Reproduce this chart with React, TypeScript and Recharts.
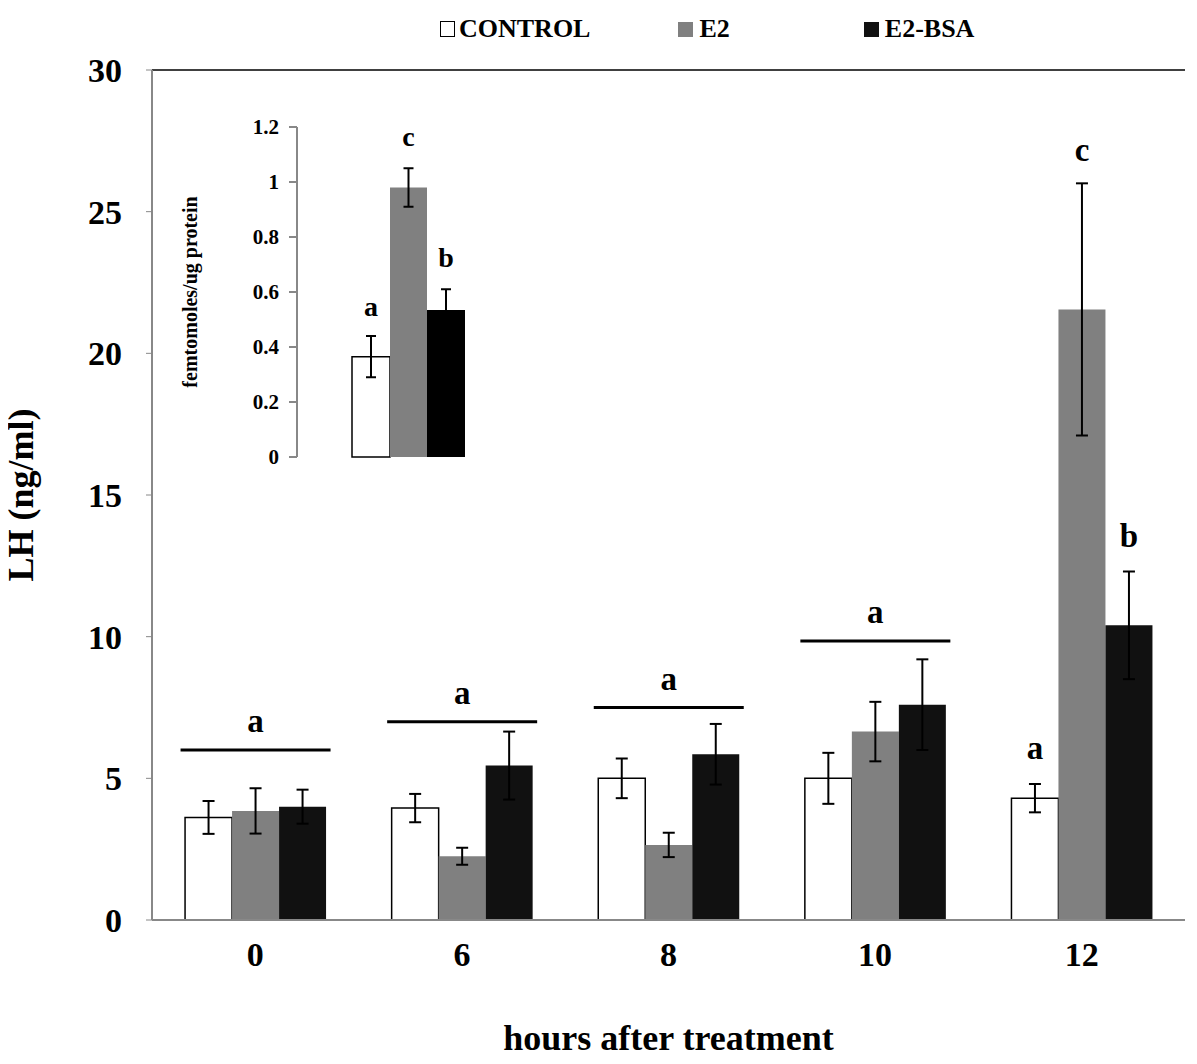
import { BarChart, Bar, XAxis, YAxis, ErrorBar, LabelList, ReferenceLine } from 'recharts'

const hours = ['0', '6', '8', '10', '12']
const control = [3.62, 3.95, 5.0, 5.0, 4.3]
const controlErr = [0.58, 0.5, 0.7, 0.9, 0.5]
const e2 = [3.85, 2.25, 2.65, 6.65, 21.55]
const e2Err = [0.8, 0.3, 0.43, 1.05, 4.45]
const e2bsa = [4.0, 5.45, 5.85, 7.6, 10.4]
const e2bsaErr = [0.6, 1.2, 1.07, 1.6, 1.9]
const controlLetters = ['', '', '', '', 'a']
const e2Letters = ['', '', '', '', 'c']
const e2bsaLetters = ['', '', '', '', 'b']
const sigLevel = [6.0, 7.0, 7.5, 9.85, 0]
const sigLetter = ['a', 'a', 'a', 'a', '']

const insetGroups = ['inset']
const insetControl = [0.365]
const insetControlErr = [0.075]
const insetE2 = [0.98]
const insetE2Err = [0.07]
const insetBsa = [0.535]
const insetBsaErr = [0.075]
const insetLetters = ['a', 'c', 'b']

const data = hours.map((h, i) => ({
  h,
  control: control[i], controlErr: controlErr[i],
  e2: e2[i], e2Err: e2Err[i],
  e2bsa: e2bsa[i], e2bsaErr: e2bsaErr[i],
}))
const insetData = insetGroups.map((g, i) => ({
  g, control: insetControl[i], controlErr: insetControlErr[i],
  e2: insetE2[i], e2Err: insetE2Err[i], bsa: insetBsa[i], bsaErr: insetBsaErr[i],
}))

const FONT = '"Liberation Serif", "Times New Roman", serif'

// letter above the top of an error bar
const letterContent = (vals: number[], errs: number[], letters: string[], size: number, gap: number) => (p: any) => {
  const { x, y, width, height, index } = p
  const t = letters[index]
  if (!t) return null
  const ppu = height / vals[index]
  const top = y + height - (vals[index] + errs[index]) * ppu
  return (
    <text x={x + width / 2} y={top - gap} textAnchor="middle" fontFamily={FONT} fontWeight="bold" fontSize={size} fill="#000">
      {t}
    </text>
  )
}

// significance line over a group, drawn from the middle bar
const sigContent = (p: any) => {
  const { x, y, width, height, index } = p
  const t = sigLetter[index]
  if (!t) return null
  const ppu = height / e2[index]
  const ly = y + height - sigLevel[index] * ppu
  const cx = x + width / 2
  return (
    <g>
      <line x1={cx - 75} x2={cx + 75} y1={ly} y2={ly} stroke="#000" strokeWidth={3} />
      <text x={cx} y={ly - 18} textAnchor="middle" fontFamily={FONT} fontWeight="bold" fontSize={33} fill="#000">{t}</text>
    </g>
  )
}

export default function App() {
  const tickStyle = { fontFamily: FONT, fontWeight: 'bold', fontSize: 34, fill: '#000' }
  return (
    <div style={{ position: 'relative', width: 1197, height: 1064, margin: -8, background: '#fff', fontFamily: FONT }}>
      <BarChart width={1197} height={1064} data={data} margin={{ top: 70, right: 12, left: 0, bottom: 0 }} barCategoryGap="16%" barGap={0}>
        <XAxis dataKey="h" height={144} tickLine={false} axisLine={{ stroke: '#888', strokeWidth: 2 }} tick={{ ...tickStyle, dy: 14 }}
          label={{ value: 'hours after treatment', position: 'insideBottom', offset: 14, style: { ...tickStyle, fontSize: 36 } }} />
        <YAxis width={152} domain={[0, 30]} ticks={[0, 5, 10, 15, 20, 25, 30]} axisLine={{ stroke: '#888', strokeWidth: 2 }}
          tickLine={{ stroke: '#888' }} tickSize={6} tick={{ ...tickStyle, dx: -22 }}
          label={{ value: 'LH (ng/ml)', angle: -90, position: 'insideLeft', offset: 20, style: { ...tickStyle, fontSize: 36, textAnchor: 'middle' } }} />
        <ReferenceLine y={30} stroke="#000" strokeWidth={1.5} />
        <Bar dataKey="control" fill="#fff" stroke="#000" strokeWidth={1.5} isAnimationActive={false}>
          <ErrorBar dataKey="controlErr" width={6} stroke="#000" strokeWidth={2} />
          <LabelList dataKey="control" content={letterContent(control, controlErr, controlLetters, 33, 25)} />
        </Bar>
        <Bar dataKey="e2" fill="#808080" isAnimationActive={false}>
          <ErrorBar dataKey="e2Err" width={6} stroke="#000" strokeWidth={2} />
          <LabelList dataKey="e2" content={letterContent(e2, e2Err, e2Letters, 33, 22)} />
          <LabelList dataKey="e2" content={sigContent} />
        </Bar>
        <Bar dataKey="e2bsa" fill="#111" isAnimationActive={false}>
          <ErrorBar dataKey="e2bsaErr" width={6} stroke="#000" strokeWidth={2} />
          <LabelList dataKey="e2bsa" content={letterContent(e2bsa, e2bsaErr, e2bsaLetters, 33, 25)} />
        </Bar>
      </BarChart>

      <div style={{ position: 'absolute', top: 14, left: 440, fontWeight: 'bold', fontSize: 26, display: 'flex', alignItems: 'center', whiteSpace: 'nowrap' }}>
        <span style={{ display: 'inline-block', width: 13, height: 14, border: '1.5px solid #000', marginRight: 4 }} />CONTROL
        <span style={{ display: 'inline-block', width: 15, height: 15, background: '#808080', marginLeft: 88, marginRight: 6 }} />E2
        <span style={{ display: 'inline-block', width: 15, height: 15, background: '#111', marginLeft: 134, marginRight: 6 }} />E2-BSA
      </div>

      <div style={{ position: 'absolute', left: 180, top: 100 }}>
        <BarChart width={290} height={370} data={insetData} margin={{ top: 27, right: 4, left: 0, bottom: 13 }} barCategoryGap={0} barGap={0}>
          <XAxis dataKey="g" hide padding={{ left: 54, right: 0 }} />
          <YAxis width={117} domain={[0, 1.2]} ticks={[0, 0.2, 0.4, 0.6, 0.8, 1, 1.2]} interval={0} axisLine={{ stroke: '#888', strokeWidth: 2 }}
            tickLine={{ stroke: '#888', strokeWidth: 2 }} tickSize={8}
            tick={{ fontFamily: FONT, fontWeight: 'bold', fontSize: 21, fill: '#000', dx: -8 }}
            label={{ value: 'femtomoles/ug protein', angle: -90, position: 'insideLeft', offset: 10, style: { fontFamily: FONT, fontWeight: 'bold', fontSize: 20, fill: '#000', textAnchor: 'middle' } }} />
          <Bar dataKey="control" fill="#fff" stroke="#000" strokeWidth={1.5} barSize={38} isAnimationActive={false}>
            <ErrorBar dataKey="controlErr" width={5} stroke="#000" strokeWidth={2} />
            <LabelList dataKey="control" content={letterContent(insetControl, insetControlErr, [insetLetters[0]], 28, 20)} />
          </Bar>
          <Bar dataKey="e2" fill="#808080" barSize={37} isAnimationActive={false}>
            <ErrorBar dataKey="e2Err" width={5} stroke="#000" strokeWidth={2} />
            <LabelList dataKey="e2" content={letterContent(insetE2, insetE2Err, [insetLetters[1]], 28, 22)} />
          </Bar>
          <Bar dataKey="bsa" fill="#000" barSize={38} isAnimationActive={false}>
            <ErrorBar dataKey="bsaErr" width={5} stroke="#000" strokeWidth={2} />
            <LabelList dataKey="bsa" content={letterContent(insetBsa, insetBsaErr, [insetLetters[2]], 28, 22)} />
          </Bar>
        </BarChart>
      </div>
    </div>
  )
}
